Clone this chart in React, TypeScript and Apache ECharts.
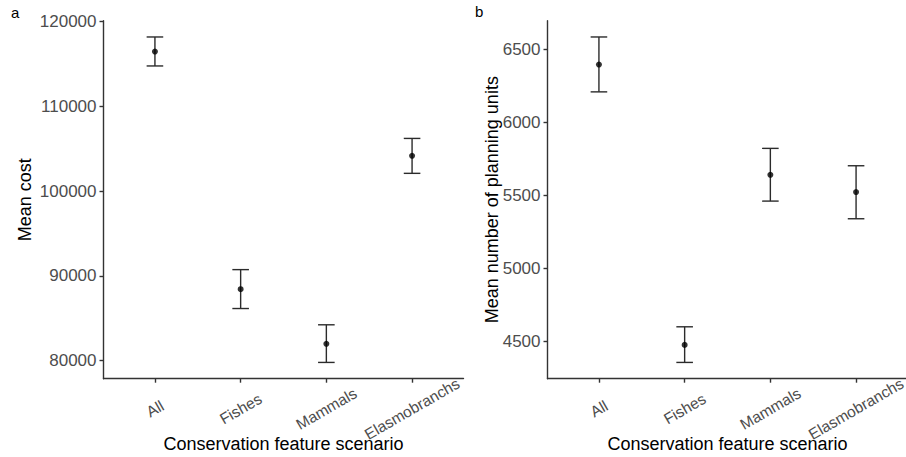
import React, { useEffect, useRef } from 'react';
import * as echarts from 'echarts';

const categories = ['All', 'Fishes', 'Mammals', 'Elasmobranchs'];

const costMean = [116470, 88430, 81990, 104170];
const costLower = [114770, 86150, 79790, 102100];
const costUpper = [118190, 90740, 84230, 106220];

const unitsMean = [6397, 4477, 5642, 5524];
const unitsLower = [6210, 4357, 5462, 5341];
const unitsUpper = [6586, 4601, 5823, 5704];

const costTicks = [80000, 90000, 100000, 110000, 120000];
const unitsTicks = [4500, 5000, 5500, 6000, 6500];
const catTicks = [0, 1, 2, 3];

const FONT = '"Liberation Sans", Arial, Helvetica, sans-serif';

function expand(lo: number[], hi: number[]) {
  const a = Math.min(...lo);
  const b = Math.max(...hi);
  const r = b - a;
  return [a - 0.05 * r, b + 0.05 * r];
}

function errorRender(params: any, api: any) {
  const x = api.value(0);
  const lo = api.coord([x, api.value(1)]);
  const hi = api.coord([x, api.value(2)]);
  const hw = 8.3;
  const style = { stroke: '#2b2b2b', lineWidth: 1.4, fill: 'none' };
  return {
    type: 'group',
    children: [
      { type: 'line', shape: { x1: lo[0], y1: lo[1], x2: hi[0], y2: hi[1] }, style },
      { type: 'line', shape: { x1: lo[0] - hw, y1: lo[1], x2: lo[0] + hw, y2: lo[1] }, style },
      { type: 'line', shape: { x1: hi[0] - hw, y1: hi[1], x2: hi[0] + hw, y2: hi[1] }, style },
    ],
  };
}

export default function App() {
  const ref = useRef<HTMLDivElement>(null);

  useEffect(() => {
    if (!ref.current) return;
    const chart = echarts.init(ref.current, null, { renderer: 'svg' });
    const [cMin, cMax] = expand(costLower, costUpper);
    const [uMin, uMax] = expand(unitsLower, unitsUpper);

    const axisLineStyle = { color: '#333333', width: 1.4 };

    const xAxisBase = (gridIndex: number) => ({
      type: 'value',
      gridIndex,
      min: -0.6,
      max: 3.6,
      splitLine: { show: false },
      axisLine: { show: true, onZero: false, lineStyle: axisLineStyle },
      axisTick: { show: true, length: 4, customValues: catTicks, lineStyle: axisLineStyle },
      axisLabel: {
        customValues: catTicks,
        formatter: (v: number) => categories[Math.round(v)] ?? '',
        rotate: 30,
        align: 'center',
        verticalAlign: 'middle',
        margin: 30,
        color: '#4d4d4d',
        fontSize: 15.5,
        fontFamily: FONT,
      },
      name: 'Conservation feature scenario',
      nameLocation: 'middle',
      nameGap: 56,
      nameMoveOverlap: false,
      nameTextStyle: { color: '#000', fontSize: 18, fontFamily: FONT },
    });

    const yAxisBase = (gridIndex: number, min: number, max: number, ticks: number[], name: string, gap: number) => ({
      type: 'value',
      gridIndex,
      min,
      max,
      splitLine: { show: false },
      axisLine: { show: true, onZero: false, lineStyle: axisLineStyle },
      axisTick: { show: true, length: 4, customValues: ticks, lineStyle: axisLineStyle },
      axisLabel: {
        customValues: ticks,
        formatter: (v: number) => String(Math.round(v)),
        margin: 7,
        color: '#4d4d4d',
        fontSize: 17,
        fontFamily: FONT,
      },
      name,
      nameLocation: 'middle',
      nameGap: gap,
      nameMoveOverlap: false,
      nameTextStyle: { color: '#000', fontSize: 18, fontFamily: FONT },
    });

    chart.setOption({
      animation: false,
      backgroundColor: '#ffffff',
      textStyle: { fontFamily: FONT },
      grid: [
        { left: 103.5, top: 20.7, width: 360, height: 358, containLabel: false, outerBoundsMode: 'none' },
        { left: 547.5, top: 20.7, width: 360, height: 358, containLabel: false, outerBoundsMode: 'none' },
      ],
      xAxis: [xAxisBase(0), xAxisBase(1)],
      yAxis: [
        yAxisBase(0, cMin, cMax, costTicks, 'Mean cost', 70),
        yAxisBase(1, uMin, uMax, unitsTicks, 'Mean number of planning units', 47),
      ],
      graphic: [
        { type: 'text', left: 11, top: 5, style: { text: 'a', fontSize: 15, fill: '#000', fontFamily: FONT } },
        { type: 'text', left: 475, top: 4, style: { text: 'b', fontSize: 15, fill: '#000', fontFamily: FONT } },
      ],
      series: [
        {
          type: 'custom',
          xAxisIndex: 0,
          yAxisIndex: 0,
          renderItem: errorRender,
          encode: { x: 0, y: [1, 2] },
          data: categories.map((_, i) => [i, costLower[i], costUpper[i]]),
          z: 2,
        },
        {
          type: 'scatter',
          xAxisIndex: 0,
          yAxisIndex: 0,
          symbolSize: 6,
          itemStyle: { color: '#000' },
          data: categories.map((_, i) => [i, costMean[i]]),
          z: 3,
        },
        {
          type: 'custom',
          xAxisIndex: 1,
          yAxisIndex: 1,
          renderItem: errorRender,
          encode: { x: 0, y: [1, 2] },
          data: categories.map((_, i) => [i, unitsLower[i], unitsUpper[i]]),
          z: 2,
        },
        {
          type: 'scatter',
          xAxisIndex: 1,
          yAxisIndex: 1,
          symbolSize: 6,
          itemStyle: { color: '#000' },
          data: categories.map((_, i) => [i, unitsMean[i]]),
          z: 3,
        },
      ],
    });
    return () => chart.dispose();
  }, []);

  return (
    <div
      ref={ref}
      style={{ position: 'fixed', left: 0, top: 0, width: 906, height: 457, background: '#fff' }}
    />
  );
}
